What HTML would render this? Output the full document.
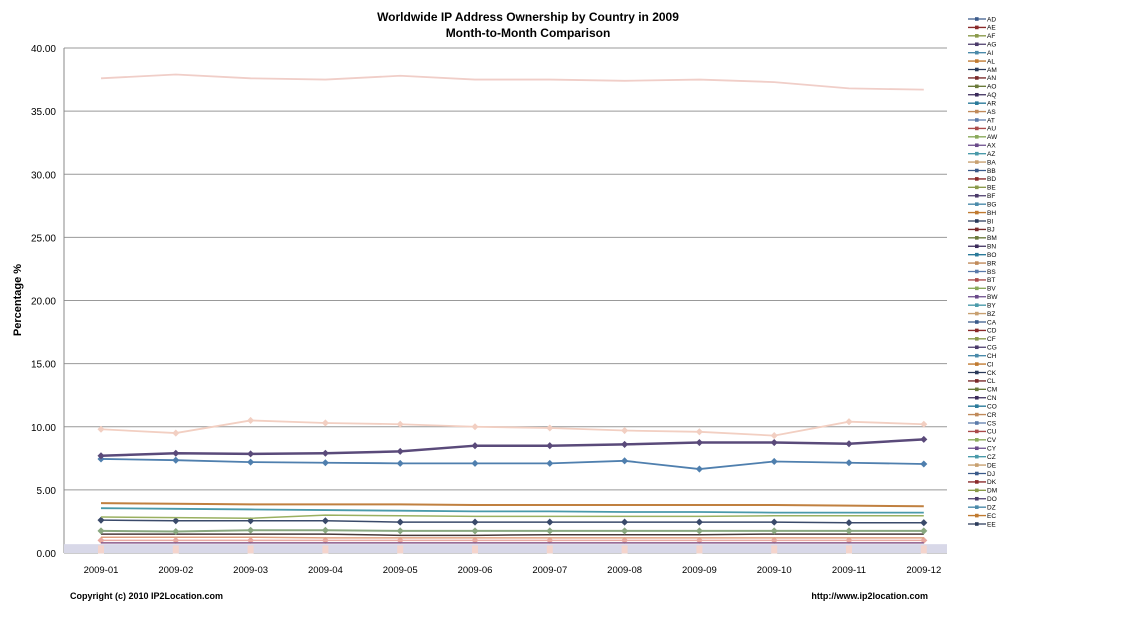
<!DOCTYPE html><html><head><style>body{margin:0;background:#fff}svg{display:block;font-family:"Liberation Sans",sans-serif}</style></head><body>
<svg id="s" width="1138" height="617" xmlns="http://www.w3.org/2000/svg">
<rect width="1138" height="617" fill="#fff"/>
<text x="528" y="21" font-size="12" font-weight="bold" text-anchor="middle">Worldwide IP Address Ownership by Country in 2009</text>
<text x="528" y="37" font-size="12" font-weight="bold" text-anchor="middle">Month-to-Month Comparison</text>
<text transform="translate(21,300) rotate(-90)" font-size="11" font-weight="bold" text-anchor="middle">Percentage %</text>
<text x="70" y="599" font-size="9" font-weight="bold">Copyright (c) 2010 IP2Location.com</text>
<text x="928" y="599" font-size="9" font-weight="bold" text-anchor="end">http://www.ip2location.com</text>
<g id="g"></g>
</svg>
<script>
const g=document.getElementById('g');let h='';
const Y=v=>553-v*12.625, X=i=>101+i*74.8;
for(let k=0;k<=8;k++){const y=Y(k*5);h+=`<line x1="64" x2="947" y1="${y}" y2="${y}" stroke="#999" stroke-width="1"/><text x="56" y="${y+4}" font-size="10" text-anchor="end">${(k*5).toFixed(2)}</text>`;}
h+=`<line x1="64" x2="64" y1="48" y2="553" stroke="#888"/>`;
h+=`<rect x="64" y="${Y(0.7)}" width="883" height="${Y(0)-Y(0.7)}" fill="#d8d8e8"/>`;
for(let i=0;i<12;i++)h+=`<text x="${X(i)}" y="573" font-size="9.5" text-anchor="middle">2009-${String(i+1).padStart(2,'0')}</text>`;
const S=[
[[1.0,1,1,1,1,1,1,1,1,1,1,1],'#e8a8a0',1.5,1],
[[0.8,0.8,0.8,0.8,0.8,0.8,0.8,0.8,0.8,0.8,0.8,0.8],'#8a5a8a',1.5,0],
[[1.25,1.25,1.25,1.2,1.2,1.2,1.2,1.2,1.2,1.2,1.2,1.2],'#e0a080',1.5,0],
[[1.5,1.5,1.5,1.5,1.4,1.4,1.45,1.45,1.45,1.5,1.5,1.5],'#4a3a3a',1.5,0],
[[1.75,1.7,1.8,1.8,1.75,1.75,1.75,1.75,1.75,1.75,1.75,1.75],'#8aa880',2,1],
[[2.6,2.55,2.55,2.55,2.45,2.45,2.45,2.45,2.45,2.45,2.4,2.4],'#3a4a6a',1.5,1],
[[2.85,2.8,2.75,3.0,2.95,2.9,2.9,2.9,2.9,2.95,2.95,2.95],'#9ab060',1.5,0],
[[3.55,3.5,3.45,3.4,3.35,3.3,3.3,3.25,3.25,3.2,3.2,3.2],'#4a9aaa',1.8,0],
[[3.95,3.9,3.85,3.85,3.85,3.8,3.8,3.8,3.8,3.8,3.75,3.7],'#c08040',2,0],
[[7.45,7.35,7.2,7.15,7.1,7.1,7.1,7.3,6.65,7.25,7.15,7.05],'#4f7fae',1.8,1],
[[7.7,7.9,7.85,7.9,8.05,8.5,8.5,8.6,8.75,8.75,8.65,9.0],'#5a4a7a',2.5,1],
[[9.8,9.5,10.5,10.3,10.2,10.0,9.9,9.7,9.6,9.3,10.4,10.2],'#f2cfc2',1.8,1],
[[37.6,37.9,37.6,37.5,37.8,37.5,37.5,37.4,37.5,37.3,36.8,36.7],'#f0cec8',1.8,0]];
for(const [d,c,w,m] of S){h+=`<polyline fill="none" stroke="${c}" stroke-width="${w}" points="${d.map((v,i)=>X(i)+','+Y(v)).join(' ')}"/>`;
if(m)d.forEach((v,i)=>h+=`<rect x="${X(i)-2.5}" y="${Y(v)-2.5}" width="5" height="5" fill="${c}" transform="rotate(45 ${X(i)} ${Y(v)})"/>`);}
for(let i=0;i<12;i++)h+=`<rect x="${X(i)-3}" y="${Y(0.6)}" width="6" height="8" fill="#f4d4cc"/>`;
const L="AD AE AF AG AI AL AM AN AO AQ AR AS AT AU AW AX AZ BA BB BD BE BF BG BH BI BJ BM BN BO BR BS BT BV BW BY BZ CA CD CF CG CH CI CK CL CM CN CO CR CS CU CV CY CZ DE DJ DK DM DO DZ EC EE".split(' ');
const C=['#3a5a8a','#8a2a2a','#8a9a4a','#4a3a6a','#4a8aaa','#c07a30','#2a3a5a','#7a2a2a','#6a7a3a','#3a2a5a','#2a7a9a','#c08a5a','#5a7aaa','#aa4a4a','#8aaa5a','#6a4a8a','#4a9aaa','#c8a070'];
const st=505/(L.length-1);
L.forEach((t,i)=>{const y=19+i*st,c=C[i%C.length];h+=`<line x1="968" x2="986" y1="${y}" y2="${y}" stroke="${c}" stroke-width="1.3"/><rect x="975" y="${y-1.8}" width="3.6" height="3.6" fill="${c}"/><text x="987" y="${y+2.3}" font-size="6.5">${t}</text>`;});
g.innerHTML=h;
</script></body></html>
